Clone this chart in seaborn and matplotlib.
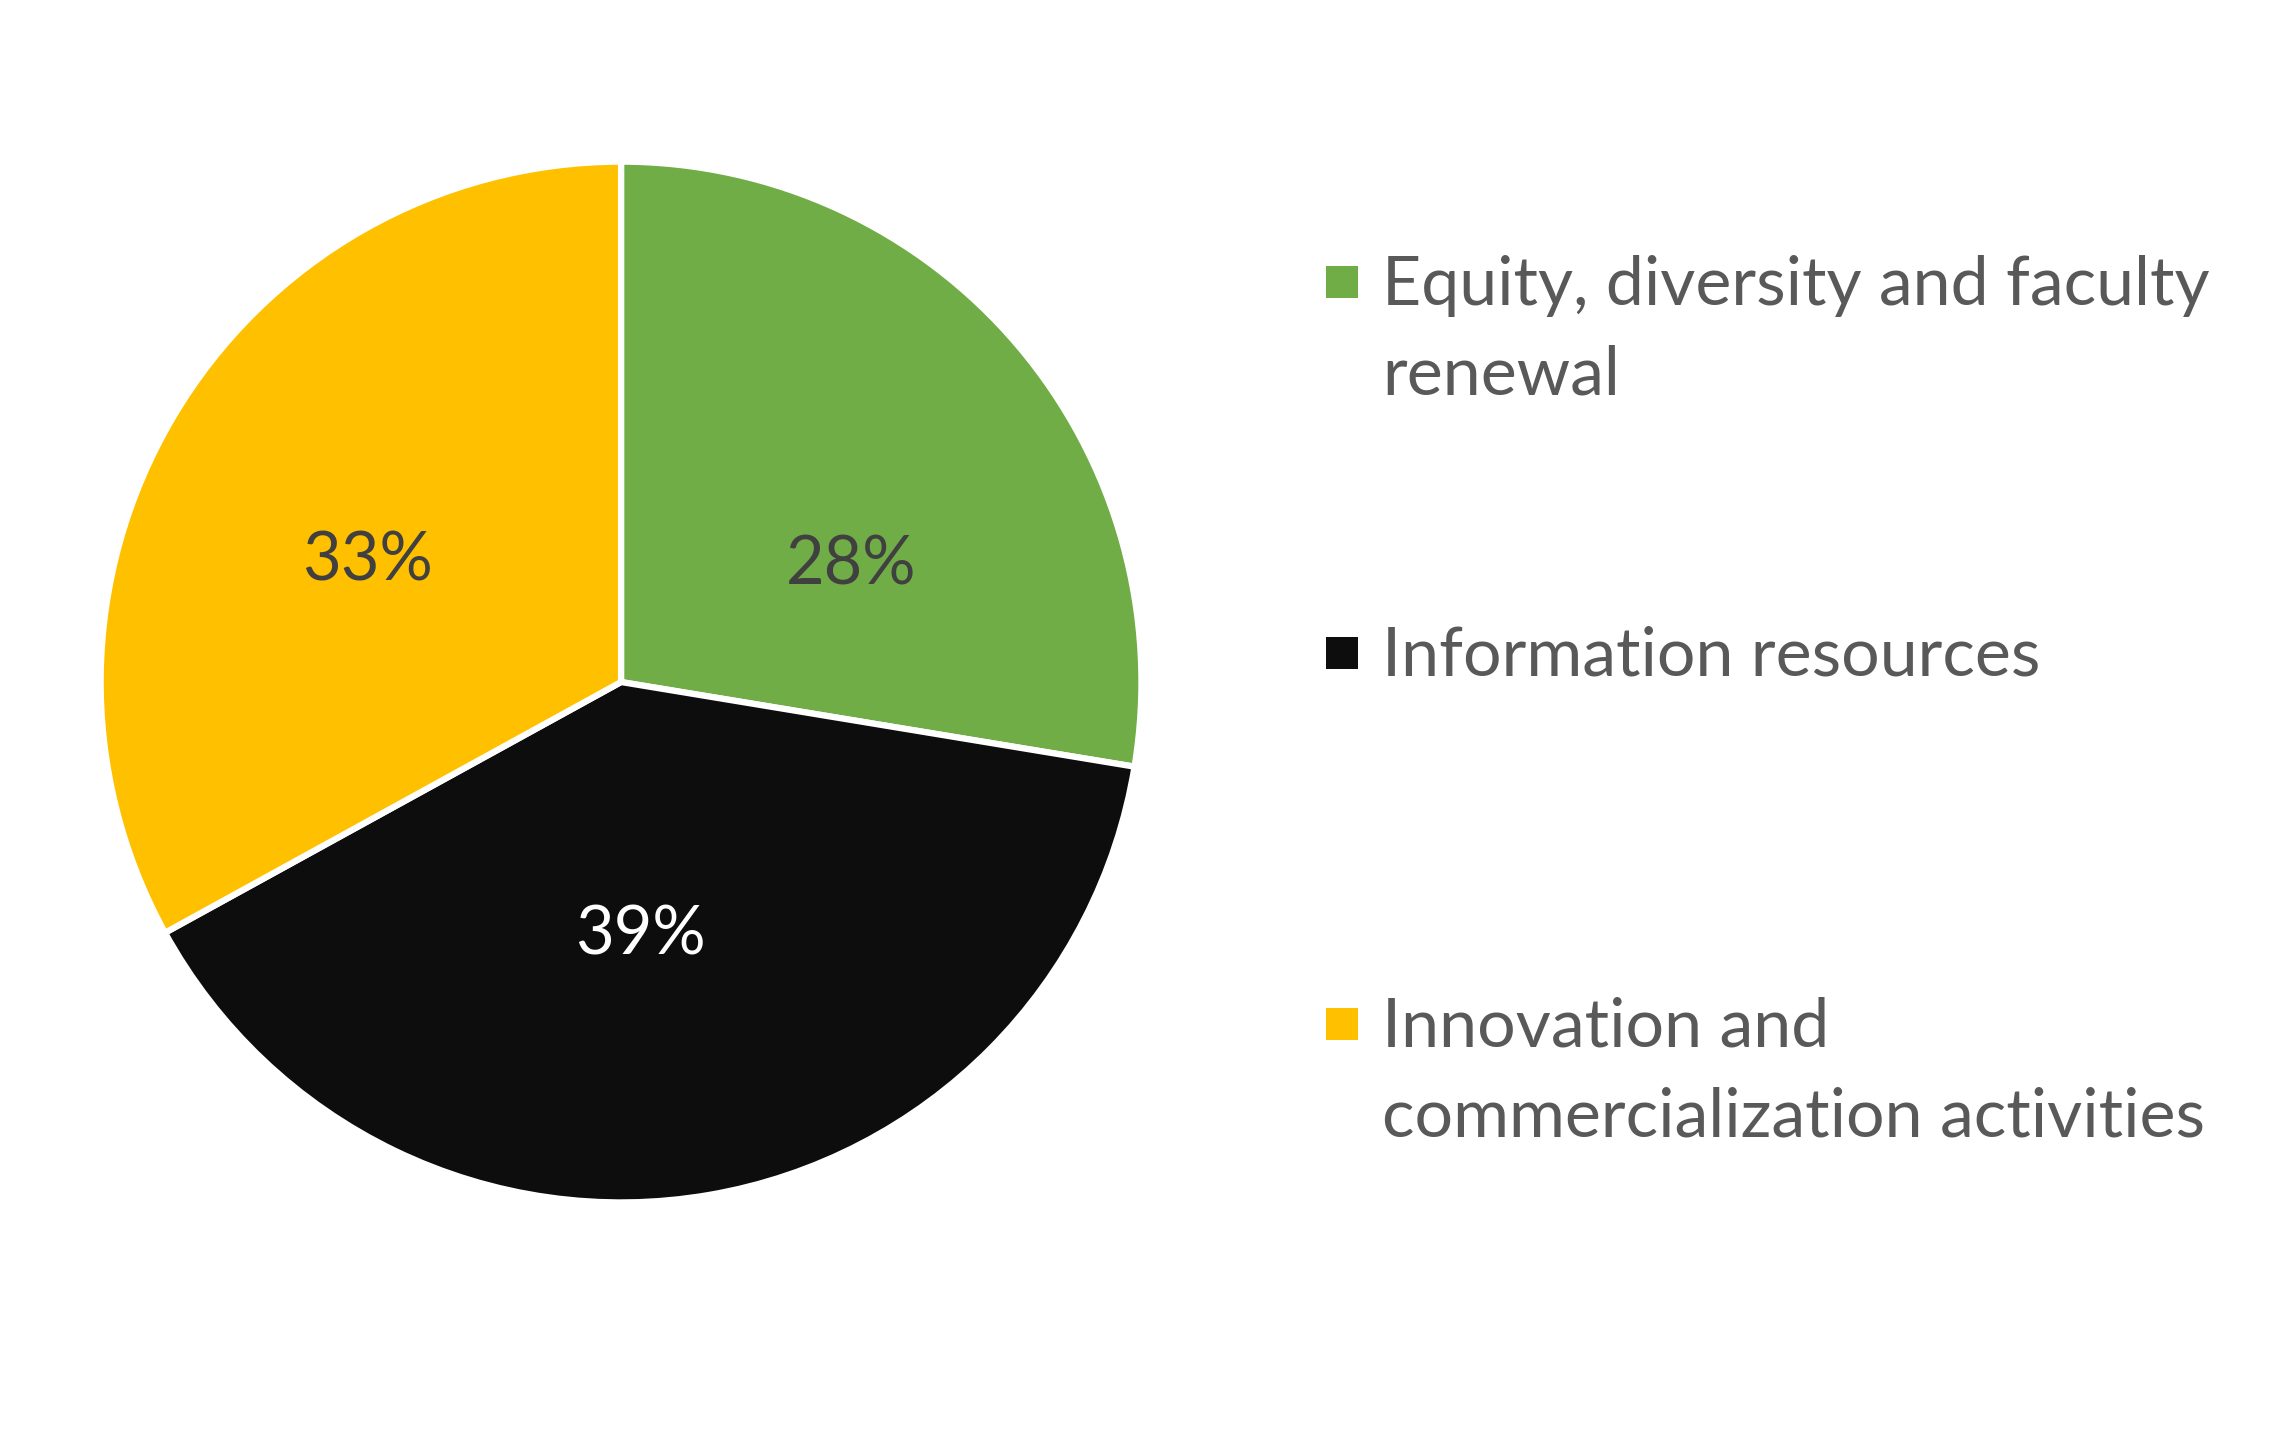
import matplotlib
matplotlib.use("Agg")
import matplotlib.pyplot as plt
import seaborn as sns
from matplotlib.patches import Rectangle

categories = ["Equity, diversity and faculty\nrenewal",
              "Information resources",
              "Innovation and\ncommercialization activities"]
shares = [27.6, 39.4, 33.0]
colors = ["#70AD47", "#0D0D0D", "#FFC000"]
pct_colors = ["#404040", "#FFFFFF", "#404040"]
# label positions (in pie-radius units, relative to centre)
label_pos = [(0.442, 0.223), (0.037, -0.487), (-0.487, 0.231)]

sns.set_theme(style="white")
plt.rcParams['font.family'] = ['Lato', 'DejaVu Sans']

fig = plt.figure(figsize=(22.9, 14.55), dpi=100)
fig.patch.set_facecolor("white")
ax = fig.add_axes([0.0428, 0.1718, 0.4568, 0.7189])
wedges, texts, autotexts = ax.pie(
    shares, colors=colors, startangle=90, counterclock=False,
    autopct=lambda p: f"{p:.0f}%", pctdistance=0.52, radius=1,
    wedgeprops=dict(edgecolor="white", linewidth=4.5),
    textprops=dict(fontsize=48))
for t, c, pos in zip(autotexts, pct_colors, label_pos):
    t.set_color(c)
    t.set_position(pos)
ax.set_xlim(-1.005, 1.005)
ax.set_ylim(-1.005, 1.005)
ax.set_aspect("equal")
ax.axis("off")

# legend
W, H = 2290, 1455
ys = [193, 447, 701]  # reference-shown coords of first lines
scale = 2290 / 1568
for lab, col, ysh in zip(categories, colors, ys):
    yc = 1 - (ysh * scale) / H
    sq = 32
    fig.patches.append(Rectangle((1326 / W, yc - sq / 2 / H), sq / W, sq / H,
                                 transform=fig.transFigure, facecolor=col,
                                 edgecolor="none"))
    fig.text(1382 / W, yc + 27 / H, lab, fontsize=49, color="#595959",
             va="top", ha="left", linespacing=1.55)

fig.savefig("out.png", dpi=100, facecolor="white")
